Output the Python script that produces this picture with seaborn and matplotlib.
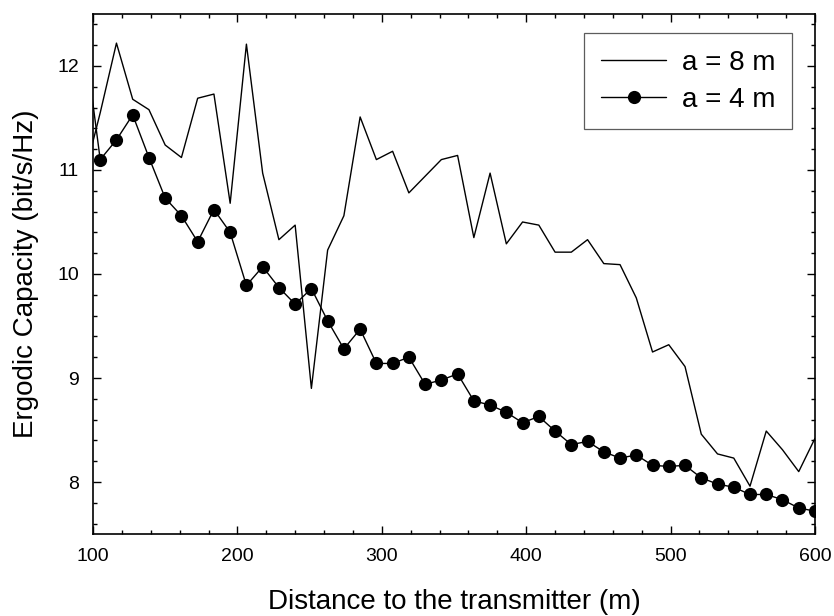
import matplotlib
matplotlib.use("Agg")
import matplotlib.pyplot as plt
import seaborn as sns
import pandas as pd
from matplotlib.ticker import MultipleLocator

sns.set_theme(style="ticks")
plt.rcParams['font.family'] = ['Liberation Sans', 'DejaVu Sans']
plt.rcParams.update({"text.color": "black", "axes.labelcolor": "black",
                     "xtick.color": "black", "ytick.color": "black"})

# distance to the transmitter (m); first point lies just left of the axis
distance = [93.75, 105.0, 116.25, 127.5, 138.75, 150.0, 161.25, 172.5, 183.75,
            195.0, 206.25, 217.5, 228.75, 240.0, 251.25, 262.5, 273.75, 285.0,
            296.25, 307.5, 318.75, 330.0, 341.25, 352.5, 363.75, 375.0, 386.25,
            397.5, 408.75, 420.0, 431.25, 442.5, 453.75, 465.0, 476.25, 487.5,
            498.75, 510.0, 521.25, 532.5, 543.75, 555.0, 566.25, 577.5, 588.75,
            600.0]

# a = 8 m
cap_8m = [10.93, 11.55, 12.22, 11.68, 11.58, 11.24, 11.12, 11.69, 11.73, 10.68,
          12.21, 10.97, 10.33, 10.47, 8.90, 10.23, 10.56, 11.51, 11.10, 11.18,
          10.78, 10.94, 11.10, 11.14, 10.35, 10.97, 10.29, 10.50, 10.47, 10.21,
          10.21, 10.33, 10.10, 10.09, 9.77, 9.25, 9.32, 9.11, 8.46, 8.27,
          8.23, 7.96, 8.49, 8.31, 8.10, 8.42]

# a = 4 m
cap_4m = [12.30, 11.10, 11.29, 11.53, 11.12, 10.73, 10.56, 10.31, 10.62, 10.40,
          9.89, 10.07, 9.87, 9.71, 9.86, 9.55, 9.28, 9.47, 9.14, 9.14,
          9.20, 8.94, 8.98, 9.04, 8.78, 8.74, 8.67, 8.57, 8.63, 8.49,
          8.36, 8.39, 8.29, 8.23, 8.26, 8.16, 8.15, 8.16, 8.04, 7.98,
          7.95, 7.88, 7.88, 7.83, 7.75, 7.72]

df = pd.DataFrame({"distance": distance, "a8": cap_8m, "a4": cap_4m})

fig = plt.figure(figsize=(8.34, 6.16), dpi=100)
ax = fig.add_axes([0.1115, 0.1331, 0.8657, 0.8442])

sns.lineplot(data=df, x="distance", y="a8", color="black", linewidth=1.0,
             label="a = 8 m", ax=ax, sort=False)
sns.lineplot(data=df, x="distance", y="a4", color="black", linewidth=1.0,
             marker="o", markersize=9.5, markeredgewidth=0,
             label="a = 4 m", ax=ax, sort=False)

ax.set_xlim(100, 600)
ax.set_ylim(7.5, 12.5)
ax.xaxis.set_major_locator(MultipleLocator(100))
ax.xaxis.set_minor_locator(MultipleLocator(20))
ax.yaxis.set_major_locator(MultipleLocator(1))
ax.yaxis.set_minor_locator(MultipleLocator(0.2))
ax.tick_params(which="both", direction="in", top=True, right=True,
               color="black", width=1.0, labelsize=14, pad=10)
ax.tick_params(which="major", length=6)
ax.tick_params(which="minor", length=3.2)
for s in ax.spines.values():
    s.set_linewidth(1.2)
    s.set_color("black")

ax.set_xlabel("Distance to the transmitter (m)", fontsize=20, labelpad=17)
ax.set_ylabel("Ergodic Capacity (bit/s/Hz)", fontsize=20, labelpad=13)

leg = ax.legend(loc="upper right", bbox_to_anchor=(0.968, 0.9635),
                borderaxespad=0, fontsize=20, frameon=True, fancybox=False,
                handlelength=2.35, labelspacing=0.4, borderpad=0.6,
                handletextpad=0.55)
leg.get_frame().set_edgecolor("#333333")
leg.get_frame().set_linewidth(0.9)

fig.savefig("out.png", dpi=100)
